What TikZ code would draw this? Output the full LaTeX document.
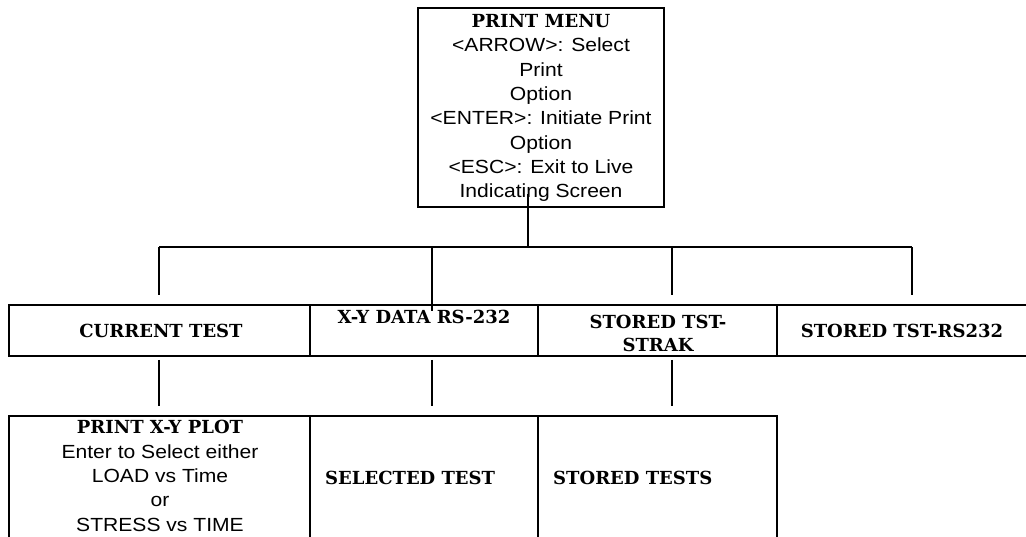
\documentclass[tikz,border=0pt]{standalone}
\usepackage{fontspec}
\setmainfont{Liberation Sans}[FakeStretch=1.11]
\newfontfamily\hdfont{DejaVu Serif}
\begin{document}
\begin{tikzpicture}[x=1pt,y=-1pt,
  box/.style={draw, line width=1.8pt, inner sep=0pt, rectangle},
  conn/.style={line width=1.2pt},
  txt/.style={inner sep=0pt, align=center, font=\fontsize{19}{24.3}\selectfont},
  hdtxt/.style={inner sep=0pt, align=center, font=\hdfont\bfseries\fontsize{18}{23.5}\selectfont}]
\useasboundingbox (0,0) rectangle (1026,536);
\clip (0,0) rectangle (1026,536);
% boxes
\node[box, minimum width=246pt, minimum height=199pt] (menu) at (541,107.5) {};
\node[box, minimum width=301pt, minimum height=51pt] (cur) at (159.5,330.5) {};
\node[box, minimum width=228pt, minimum height=51pt] (xy) at (424,330.5) {};
\node[box, minimum width=239pt, minimum height=51pt] (stk) at (657.5,330.5) {};
\node[box, minimum width=253pt, minimum height=51pt] (srs) at (903.5,330.5) {};
\node[box, minimum width=301pt, minimum height=129pt] (plot) at (159.5,480.5) {};
\node[box, minimum width=228pt, minimum height=129pt] (sel) at (424,480.5) {};
\node[box, minimum width=239pt, minimum height=129pt] (sto) at (657.5,480.5) {};
% texts
\node[txt] (menutxt) at (541,108) {{\hdfont\bfseries\fontsize{18}{24.3}\selectfont PRINT MENU}\\<ARROW>: Select\\Print\\Option\\<ENTER>: Initiate Print\\Option\\<ESC>: Exit to Live\\Indicating Screen};
\node[hdtxt] (curtxt) at (161,331) {CURRENT TEST};
\node[hdtxt] (xytxt) at (424,317) {X-Y DATA RS-232};
\node[hdtxt] (stktxt) at (658,333.5) {STORED TST-\\STRAK};
\node[hdtxt] (srstxt) at (902,331) {STORED TST-RS232};
\node[txt] (plottxt) at (160,476) {{\hdfont\bfseries\fontsize{18}{23.5}\selectfont PRINT X-Y PLOT}\\Enter to Select either\\LOAD vs Time\\or\\STRESS vs TIME};
\node[hdtxt, anchor=west] (seltxt) at (325,478) {SELECTED TEST};
\node[hdtxt, anchor=west] (stotxt) at (553,478) {STORED TESTS};
% connectors
\coordinate (hub) at (528,247);
\coordinate (bl) at (159,247);
\coordinate (b2) at (432,247);
\coordinate (b3) at (672,247);
\coordinate (br) at (912,247);
\draw[conn] ([yshift=14pt]menu.south -| hub) -- (hub);
\draw[conn] (bl) -- (br);
\draw[conn] (bl) -- ([yshift=9pt]cur.north -| bl);
\draw[conn] (b2) -- ([yshift=-7pt]xy.north -| b2);
\draw[conn] (b3) -- ([yshift=9pt]stk.north -| b3);
\draw[conn] (br) -- ([yshift=9pt]srs.north -| br);
\draw[conn] ([yshift=-3pt]cur.south -| bl) -- ([yshift=9pt]plot.north -| bl);
\draw[conn] ([yshift=-3pt]xy.south -| b2) -- ([yshift=9pt]sel.north -| b2);
\draw[conn] ([yshift=-3pt]stk.south -| b3) -- ([yshift=9pt]sto.north -| b3);
\end{tikzpicture}
\end{document}
